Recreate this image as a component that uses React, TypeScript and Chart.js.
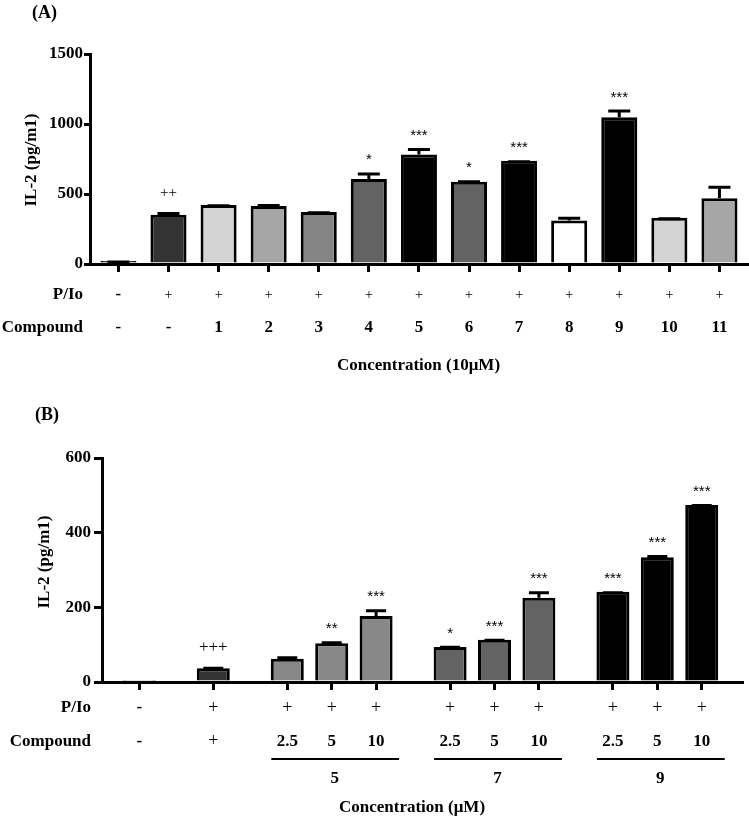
import React, { useEffect, useRef } from 'react';
import { Chart, registerables } from 'chart.js';

Chart.register(...registerables);

// ---------- Panel (A) data ----------
const pioA = ['-', '+', '+', '+', '+', '+', '+', '+', '+', '+', '+', '+', '+'];
const compoundA = ['-', '-', '1', '2', '3', '4', '5', '6', '7', '8', '9', '10', '11'];
const il2A = [22, 352, 422, 414, 372, 607, 783, 587, 738, 310, 1048, 331, 469];
const semA = [3, 20, 5, 15, 5, 47, 45, 12, 3, 28, 55, 3, 90];
const sigA = ['', '++', '', '', '', '*', '***', '*', '***', '', '***', '', ''];
const yTicksA = [0, 500, 1000, 1500];
const colorsA = ['#1a1a1a', '#333333', '#d4d4d4', '#a6a6a6', '#858585', '#636363', '#000000', '#636363', '#000000', '#ffffff', '#000000', '#d4d4d4', '#a6a6a6'];

// ---------- Panel (B) data ----------
const pioB = ['-', '+', '+', '+', '+', '+', '+', '+', '+', '+', '+'];
const doseB = ['-', '+', '2.5', '5', '10', '2.5', '5', '10', '2.5', '5', '10'];
const groupB = ['', '', '5', '5', '5', '7', '7', '7', '9', '9', '9'];
const il2B = [3, 37, 62, 104, 177, 94, 113, 226, 242, 334, 474];
const semB = [0, 4, 7, 5, 18, 3, 3, 17, 1, 6, 3];
const sigB = ['', '+++', '', '**', '***', '*', '***', '***', '***', '***', '***'];
const yTicksB = [0, 200, 400, 600];
const colorsB = ['#ffffff', '#333333', '#888888', '#888888', '#888888', '#636363', '#636363', '#636363', '#000000', '#000000', '#000000'];

const SERIF = '"Liberation Serif", "Times New Roman", serif';
const SANS = '"Liberation Sans", Arial, sans-serif';

// positions: evenly spaced within a group, wider gap between groups
function groupPositions(groups: string[]) {
  const out: number[] = [];
  groups.forEach((g, i) => {
    if (i === 0) out.push(0);
    else if (g !== '' && g === groups[i - 1]) out.push(out[i - 1] + 1);
    else out.push(out[i - 1] + 5 / 3);
  });
  return out;
}

const specA = {
  letter: '(A)', letterX: 32, letterY: 13,
  pio: pioA, compound: compoundA, groups: null as string[] | null,
  positions: pioA.map((_, i) => i),
  values: il2A, errs: semA, sig: sigA, colors: colorsA, yTicks: yTicksA,
  xMin: -0.567, xMax: 12.55,
  padTop: 54, padRight: 2, yWidth: 90, xHeight: 136,
  yTickLen: 6, yTickPad: 1, barPct: 0.72, capW: 22,
  titleX: 32, titleDy: 1,
  labelRight: 7, plusRow: 14, plusSig: 15,
  rowPio: 31, rowCmp: 64, concY: 102, concDx: 0, conc: 'Concentration (10\u03bcM)',
  underY: 0, groupY: 0,
};

const specB = {
  letter: '(B)', letterX: 35, letterY: 15,
  pio: pioB, compound: doseB, groups: groupB,
  positions: groupPositions(groupB),
  values: il2B, errs: semB, sig: sigB, colors: colorsB, yTicks: yTicksB,
  xMin: -0.84, xMax: 13.574,
  padTop: 58, padRight: 7, yWidth: 102, xHeight: 139,
  yTickLen: 8, yTickPad: 3, barPct: 0.743, capW: 20,
  titleX: 45, titleDy: -8,
  labelRight: 11, plusRow: 18, plusSig: 17,
  rowPio: 26, rowCmp: 59.5, concY: 126, concDx: -10, conc: 'Concentration (\u03bcM)',
  underY: 77, groupY: 97,
};

type Spec = typeof specA;

function Panel({ spec, top, height }: { spec: Spec; top: number; height: number }) {
  const ref = useRef<HTMLCanvasElement>(null);
  useEffect(() => {
    const canvas = ref.current!;
    const deco = {
      id: 'deco',
      afterDraw(chart: any) {
        const { ctx, chartArea: ca, scales } = chart;
        const xs = scales.x;
        const ys = scales.y;
        ctx.save();
        ctx.fillStyle = '#000';
        ctx.strokeStyle = '#000';
        ctx.lineCap = 'butt';
        // error bars & significance marks
        spec.values.forEach((v, i) => {
          const x = xs.getPixelForValue(spec.positions[i]);
          const yv = ys.getPixelForValue(v);
          const yt = ys.getPixelForValue(v + spec.errs[i]);
          if (spec.errs[i] > 0) {
            ctx.lineWidth = 3;
            ctx.beginPath();
            ctx.moveTo(x, yv);
            ctx.lineTo(x, yt + 1.5);
            ctx.moveTo(x - spec.capW / 2, yt + 1.5);
            ctx.lineTo(x + spec.capW / 2, yt + 1.5);
            ctx.stroke();
          }
          const s = spec.sig[i];
          if (s) {
            ctx.textAlign = 'center';
            ctx.textBaseline = 'alphabetic';
            if (s[0] === '*') {
              ctx.font = `15px ${SANS}`;
              ctx.fillText(s, x, yt - 8);
            } else {
              ctx.font = `${spec.plusSig}px ${SERIF}`;
              ctx.fillText(s, x, yt - 15);
            }
          }
        });
        // row headers
        const bold = `bold 17px ${SERIF}`;
        ctx.font = bold;
        ctx.textAlign = 'right';
        ctx.textBaseline = 'middle';
        ctx.fillText('P/Io', ca.left - spec.labelRight, ca.bottom + spec.rowPio);
        ctx.fillText('Compound', ca.left - spec.labelRight, ca.bottom + spec.rowCmp);
        ctx.textAlign = 'center';
        const sym = (s: string, x: number, y: number) => {
          ctx.font = s === '+' ? `${spec.plusRow}px ${SERIF}` : bold;
          ctx.fillText(s, x, y);
        };
        spec.positions.forEach((p, i) => {
          const x = xs.getPixelForValue(p);
          sym(spec.pio[i], x, ca.bottom + spec.rowPio);
          sym(spec.compound[i], x, ca.bottom + spec.rowCmp);
        });
        // groups
        if (spec.groups) {
          const g = spec.groups;
          let i = 0;
          while (i < g.length) {
            if (g[i] === '') { i++; continue; }
            let j = i;
            while (j + 1 < g.length && g[j + 1] === g[i]) j++;
            const x1 = xs.getPixelForValue(spec.positions[i]);
            const x2 = xs.getPixelForValue(spec.positions[j]);
            ctx.lineWidth = 2;
            ctx.beginPath();
            ctx.moveTo(x1 - 16, ca.bottom + spec.underY);
            ctx.lineTo(x2 + 23, ca.bottom + spec.underY);
            ctx.stroke();
            ctx.font = bold;
            ctx.fillText(g[i], (x1 + x2) / 2 + 3, ca.bottom + spec.groupY);
            i = j + 1;
          }
        }
        // x title
        ctx.font = bold;
        ctx.fillText(spec.conc, (ca.left + ca.right) / 2 + spec.concDx, ca.bottom + spec.concY);
        // y title
        ctx.save();
        ctx.translate(spec.titleX, (ca.top + ca.bottom) / 2 + spec.titleDy);
        ctx.rotate(-Math.PI / 2);
        ctx.font = bold;
        ctx.fillText('IL-2 (pg/m1)', 0, 0);
        ctx.restore();
        // panel letter
        ctx.font = `bold 18px ${SERIF}`;
        ctx.textAlign = 'left';
        ctx.fillText(spec.letter, spec.letterX, spec.letterY);
        ctx.restore();
      },
    };
    const chart = new Chart(canvas, {
      type: 'bar',
      data: {
        datasets: [
          {
            data: spec.positions.map((x, i) => ({ x, y: spec.values[i] })),
            backgroundColor: spec.colors,
            borderColor: '#000',
            borderWidth: 3,
            barPercentage: spec.barPct,
            categoryPercentage: 1,
          } as any,
        ],
      },
      options: {
        responsive: false,
        animation: false,
        events: [],
        layout: { padding: { top: spec.padTop, right: spec.padRight, left: 0, bottom: 0 } },
        plugins: { legend: { display: false }, tooltip: { enabled: false }, title: { display: false } },
        scales: {
          x: {
            type: 'linear',
            offset: false,
            min: spec.xMin,
            max: spec.xMax,
            grid: { display: true, offset: false, drawOnChartArea: false, drawTicks: true, tickLength: 8, lineWidth: 3, color: '#000' },
            border: { display: true, width: 3, color: '#000' },
            ticks: { display: false },
            afterBuildTicks: (s: any) => { s.ticks = spec.positions.map((v) => ({ value: v })); },
            afterFit: (s: any) => { s.height = spec.xHeight; },
          },
          y: {
            type: 'linear',
            min: spec.yTicks[0],
            max: spec.yTicks[spec.yTicks.length - 1],
            grid: { display: true, drawOnChartArea: false, drawTicks: true, tickLength: spec.yTickLen, lineWidth: 3, color: '#000' },
            border: { display: true, width: 3, color: '#000' },
            ticks: {
              color: '#000',
              padding: spec.yTickPad,
              font: { family: SERIF, size: 17, weight: 'bold' },
              callback: (v: any) => String(v),
            },
            afterBuildTicks: (s: any) => { s.ticks = spec.yTicks.map((v) => ({ value: v })); },
            afterFit: (s: any) => { s.width = spec.yWidth; },
          },
        },
      } as any,
      plugins: [deco],
    });
    return () => chart.destroy();
  }, [spec]);
  return (
    <canvas
      ref={ref}
      width={749}
      height={height}
      style={{ position: 'absolute', left: 0, top, display: 'block' }}
    />
  );
}

export default function App() {
  return (
    <div style={{ position: 'absolute', left: 0, top: 0, width: 749, height: 821, background: '#fff' }}>
      <Panel spec={specA} top={0} height={400} />
      <Panel spec={specB as Spec} top={400} height={421} />
    </div>
  );
}
